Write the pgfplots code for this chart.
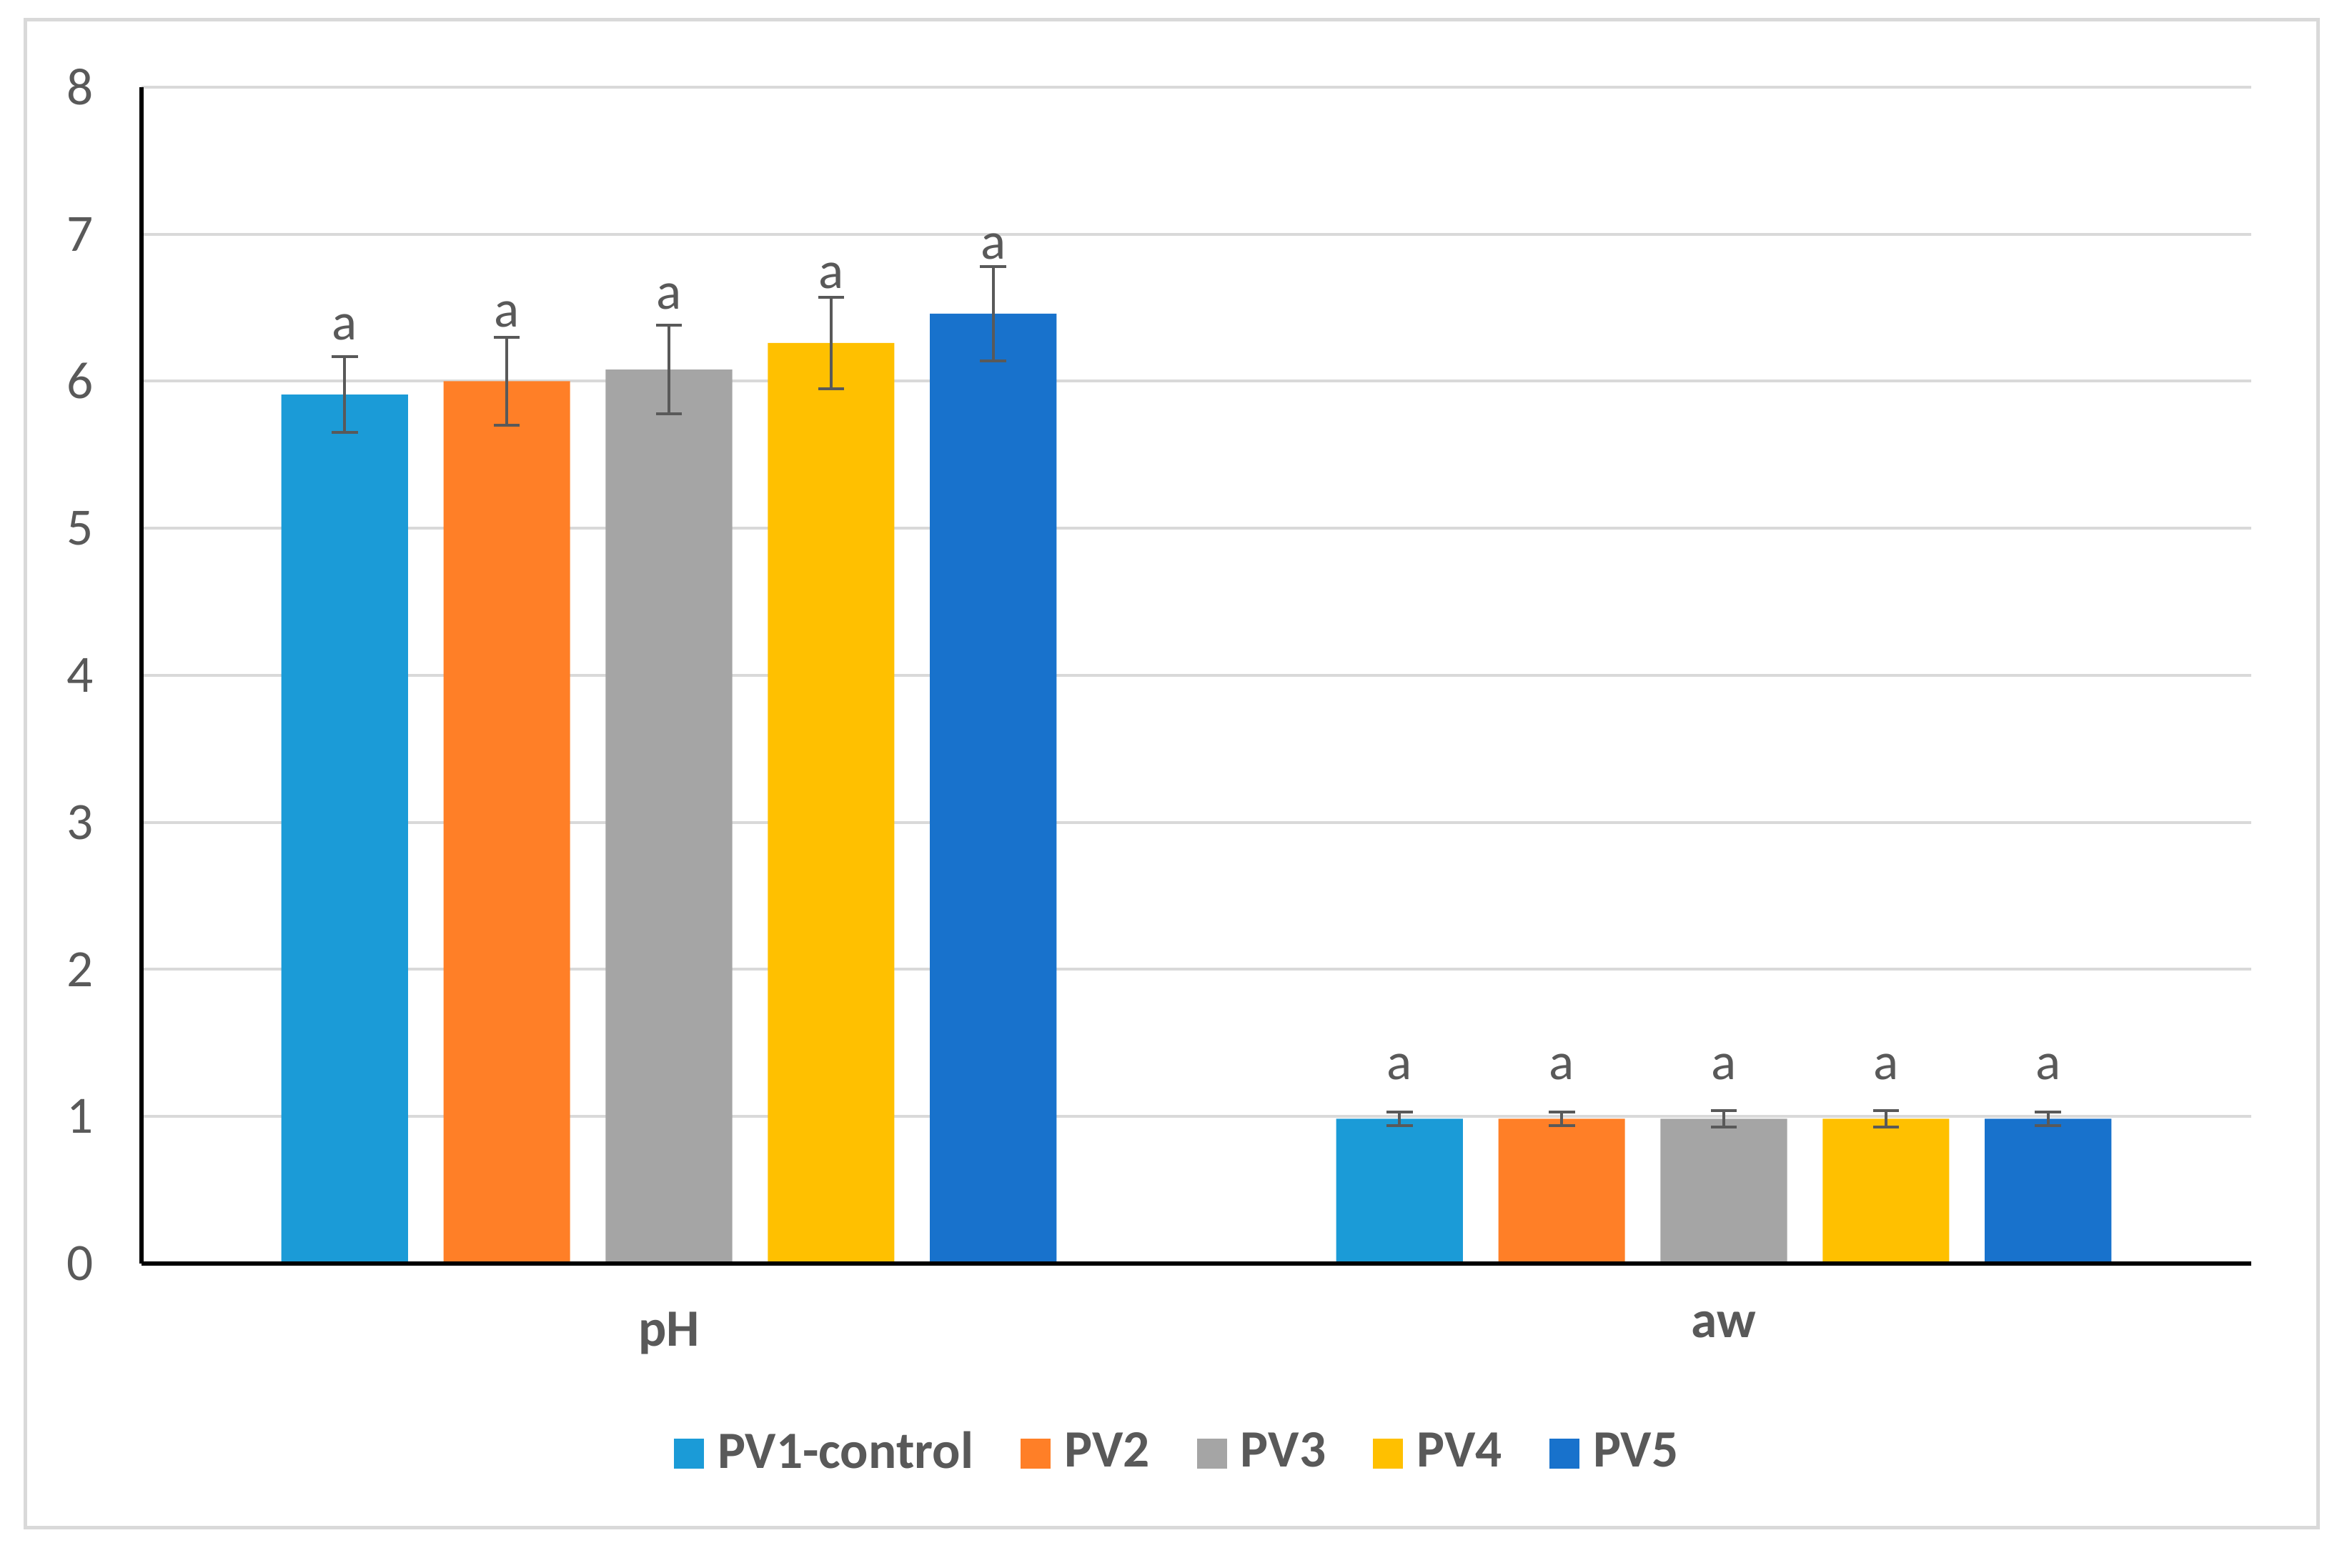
\documentclass[border=0pt]{standalone}
\usepackage{pgfplots}
\pgfplotsset{compat=1.18}
\usepackage{fontspec}
\setmainfont{Carlito}

\definecolor{cPVa}{RGB}{27,155,215}
\definecolor{cPVb}{RGB}{255,127,39}
\definecolor{cPVc}{RGB}{165,165,165}
\definecolor{cPVd}{RGB}{255,192,0}
\definecolor{cPVe}{RGB}{24,114,204}
\definecolor{txt}{RGB}{89,89,89}
\definecolor{gridc}{RGB}{217,217,217}

\begin{document}
\begin{tikzpicture}[font=\fontsize{11}{13}\selectfont]
% page size and outer frame
\path (0,0) rectangle (491.55pt,328.95pt);
\draw[gridc, line width=0.75pt] (5.25pt,8.4pt) rectangle (486.45pt,324.75pt);
\begin{axis}[
  at={(29.7pt,63.75pt)}, anchor=south west,
  scale only axis, width=442.8pt, height=246.9pt,
  xmin=-0.5, xmax=1.5, ymin=0, ymax=8,
  axis x line*=bottom, axis y line*=left,
  axis line style={black, line width=0.9pt},
  xtick={0,1}, xticklabels={\textbf{pH},\textbf{aw}},
  ytick={0,1,...,8},
  major tick length=0pt,
  ymajorgrids, grid style={gridc, line width=0.6pt},
  tick label style={text=txt, font=\fontsize{11}{13}\selectfont},
  /pgf/number format/assume math mode=true,
  xticklabel style={yshift=-6.6pt},
  yticklabel style={xshift=-6.6pt},
  ybar, bar width=0.12, bar shift=0pt,
  legend image code/.code={\fill[#1] (0pt,-3.15pt) rectangle (6.3pt,3.15pt);},
  legend style={at={(0.4936,-0.1615)}, anchor=center, draw=none, fill=none,
    legend columns=5, /tikz/every even column/.append style={column sep=7pt},
    nodes={inner xsep=2.9pt, text=txt}},
  error bars/y dir=both, error bars/y explicit,
  error bars/error bar style={draw=txt, line width=0.6pt},
  error bars/error mark options={draw=txt, rotate=90, mark size=2.75pt, line width=0.6pt},
]
\addplot[fill=cPVa, draw=none] coordinates {(-0.3074,5.91) +- (0,0.26) (0.6926,0.985) +- (0,0.045)};
\addlegendentry{\textbf{PV1-control}}
\addplot[fill=cPVb, draw=none] coordinates {(-0.1537,6.00) +- (0,0.30) (0.8463,0.985) +- (0,0.045)};
\addlegendentry{\textbf{PV2}}
\addplot[fill=cPVc, draw=none] coordinates {(0,6.08) +- (0,0.30) (1,0.985) +- (0,0.055)};
\addlegendentry{\textbf{PV3}}
\addplot[fill=cPVd, draw=none] coordinates {(0.1537,6.26) +- (0,0.31) (1.1537,0.985) +- (0,0.055)};
\addlegendentry{\textbf{PV4}}
\addplot[fill=cPVe, draw=none] coordinates {(0.3074,6.46) +- (0,0.32) (1.3074,0.985) +- (0,0.045)};
\addlegendentry{\textbf{PV5}}
% x axis line over the bars
\draw[black, line width=0.9pt] (rel axis cs:0,0) -- (rel axis cs:1,0);
% letters of significance
\begin{scope}[every node/.style={anchor=base, text=txt, inner sep=0pt}]
\node at (axis cs:-0.3074,6.28) {a};
\node at (axis cs:-0.1537,6.37) {a};
\node at (axis cs:0,6.49) {a};
\node at (axis cs:0.1537,6.63) {a};
\node at (axis cs:0.3074,6.83) {a};
\node at (axis cs:0.6926,1.25) {a};
\node at (axis cs:0.8463,1.25) {a};
\node at (axis cs:1,1.25) {a};
\node at (axis cs:1.1537,1.25) {a};
\node at (axis cs:1.3074,1.25) {a};
\end{scope}
\end{axis}
\end{tikzpicture}
\end{document}
